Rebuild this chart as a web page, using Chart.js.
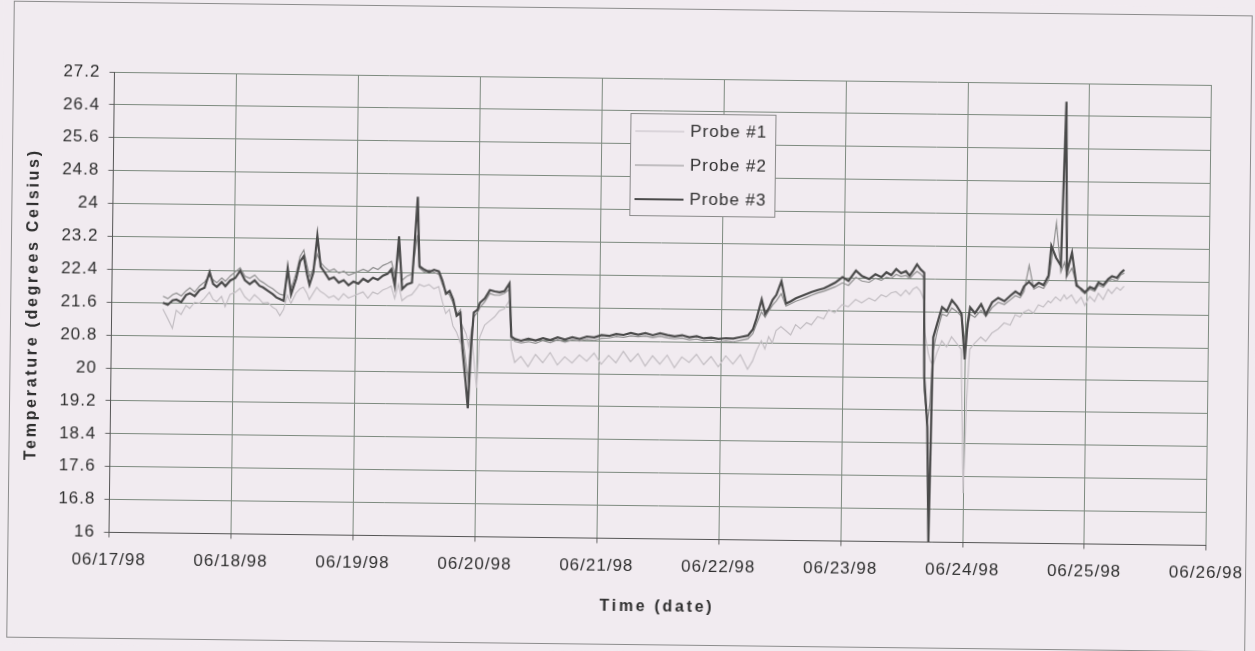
<!DOCTYPE html>
<html>
<head>
<meta charset="utf-8">
<title>Probe temperatures</title>
<script src="https://cdn.jsdelivr.net/npm/chart.js@4.4.1/dist/chart.umd.min.js"></script>
<style>
  html, body { margin: 0; padding: 0; background: #f1ebf0; overflow: hidden; }
  /* the scanned original sits slightly askew */
  #chart { display: block; transform: rotate(0.68deg); }
</style>
</head>
<body>
<canvas id="chart" width="1255" height="651"></canvas>
<script>
// tick labels
const dateLabels = ['06/17/98', '06/18/98', '06/19/98', '06/20/98', '06/21/98',
    '06/22/98', '06/23/98', '06/24/98', '06/25/98', '06/26/98'];
const yTickLabels = ['16', '16.8', '17.6', '18.4', '19.2', '20', '20.8', '21.6',
    '22.4', '23.2', '24', '24.8', '25.6', '26.4', '27.2'];

// time in days after 06/17/98 00:00
const time = [
    0.42, 0.46, 0.50, 0.53, 0.57, 0.61, 0.64, 0.68, 0.72, 0.76,
    0.80, 0.83, 0.86, 0.90, 0.93, 0.97, 1.01, 1.05, 1.09, 1.13,
    1.17, 1.21, 1.24, 1.28, 1.32, 1.35, 1.38, 1.41, 1.44, 1.47,
    1.51, 1.54, 1.57, 1.60, 1.62, 1.65, 1.68, 1.71, 1.74, 1.78,
    1.82, 1.86, 1.90, 1.94, 1.98, 2.02, 2.06, 2.10, 2.14, 2.18,
    2.22, 2.26, 2.29, 2.32, 2.35, 2.38, 2.42, 2.46, 2.50, 2.52,
    2.56, 2.60, 2.64, 2.68, 2.71, 2.74, 2.77, 2.80, 2.83, 2.86,
    2.88, 2.91, 2.93, 2.95, 2.97, 3.00, 3.02, 3.06, 3.10, 3.14,
    3.18, 3.22, 3.26, 3.28, 3.31,
    3.36, 3.42, 3.48, 3.54, 3.60, 3.66, 3.72, 3.78, 3.84, 3.90,
    3.96, 4.02, 4.08, 4.14, 4.20, 4.26, 4.32, 4.38, 4.44, 4.50,
    4.56, 4.62, 4.68, 4.74, 4.80, 4.86, 4.92, 4.98, 5.04, 5.10,
    5.16, 5.22,
    5.26, 5.29, 5.33, 5.36, 5.39, 5.42, 5.45, 5.49, 5.53, 5.57,
    5.61, 5.65, 5.70, 5.74, 5.79, 5.84, 5.88, 5.93, 5.99, 6.04,
    6.10, 6.15, 6.21, 6.26, 6.31, 6.35, 6.39, 6.43, 6.47, 6.51,
    6.54, 6.57, 6.60, 6.63, 6.66, 6.67, 6.70, 6.72, 6.74, 6.77,
    6.81, 6.85, 6.89, 6.93, 6.97, 7.00, 7.02, 7.04, 7.08, 7.13,
    7.17, 7.22, 7.27, 7.32, 7.37, 7.41, 7.45, 7.48, 7.52, 7.56,
    7.60, 7.64, 7.68, 7.70, 7.74, 7.78, 7.81, 7.83, 7.87, 7.91,
    7.95, 7.98, 8.02, 8.06, 8.09, 8.13, 8.17, 8.20, 8.24, 8.27,
    8.30
];

const probe1 = [
    21.45, 21.22, 20.98, 21.42, 21.32, 21.54, 21.47, 21.62, 21.60, 21.72,
    21.87, 21.70, 21.64, 21.77, 21.52, 21.82, 21.87, 21.97, 21.77, 21.67,
    21.82, 21.72, 21.62, 21.64, 21.52, 21.47, 21.32, 21.47, 21.82, 21.62,
    21.87, 21.97, 22.02, 21.87, 21.72, 21.87, 22.02, 21.92, 21.87, 21.77,
    21.82, 21.72, 21.87, 21.77, 21.82, 21.87, 21.92, 21.77, 21.92, 21.87,
    21.97, 22.02, 22.07, 21.77, 22.12, 21.72, 21.82, 21.87, 22.02, 22.12,
    22.07, 22.12, 22.02, 22.07, 21.72, 21.42, 21.52, 21.12, 20.97, 20.72,
    21.12, 20.92, 20.62, 21.02, 20.45, 19.62, 20.85, 21.15, 21.25, 21.35,
    21.50, 21.55, 21.75, 20.60, 20.25,
    20.40, 20.15, 20.45, 20.25, 20.50, 20.20, 20.40, 20.25, 20.45, 20.30,
    20.50, 20.23, 20.45, 20.27, 20.55, 20.30, 20.50, 20.20, 20.45, 20.25,
    20.47, 20.17, 20.43, 20.30, 20.50, 20.25, 20.45, 20.20, 20.47, 20.27,
    20.50, 20.15,
    20.35, 20.60, 20.85, 20.65, 20.95, 20.80, 21.10, 21.20, 21.10, 21.00,
    21.25, 21.15, 21.30, 21.25, 21.45, 21.40, 21.62, 21.55, 21.75, 21.70,
    21.88, 21.80, 21.92, 21.85, 22.00, 21.95, 22.05, 22.08, 21.98, 22.12,
    22.02, 22.15, 22.20, 22.10, 21.90, 21.10, 20.60, 20.40, 20.30, 20.60,
    20.90, 20.75, 21.00, 20.85, 20.70, 17.20, 19.50, 20.70, 20.85, 21.00,
    20.90, 21.10, 21.20, 21.35, 21.30, 21.55, 21.50, 21.62, 21.68, 21.60,
    21.80, 21.75, 21.90, 21.85, 22.00, 21.90, 22.05, 21.95, 22.05, 21.85,
    22.00, 21.80, 22.02, 21.90, 22.10, 21.95, 22.20, 22.10, 22.25, 22.18,
    22.28
];

const probe2 = [
    21.76, 21.70, 21.80, 21.84, 21.77, 21.90, 21.97, 21.87, 22.02, 22.12,
    22.27, 22.17, 22.10, 22.22, 22.14, 22.27, 22.37, 22.47, 22.27, 22.22,
    22.30, 22.17, 22.12, 22.04, 21.97, 21.90, 21.84, 21.82, 22.32, 21.97,
    22.37, 22.77, 22.92, 22.52, 22.27, 22.47, 22.82, 22.62, 22.52, 22.42,
    22.47, 22.37, 22.42, 22.32, 22.37, 22.42, 22.47, 22.42, 22.52, 22.47,
    22.57, 22.62, 22.67, 22.32, 22.92, 22.22, 22.32, 22.37, 23.32, 22.52,
    22.42, 22.47, 22.42, 22.37, 22.12, 21.95, 21.87, 21.67, 21.40, 21.52,
    20.90, 20.22, 19.82, 20.85, 21.35, 21.45, 21.57, 21.72, 21.92, 21.88,
    21.88, 21.93, 22.03, 20.85, 20.76,
    20.73, 20.76, 20.72, 20.79, 20.74, 20.81, 20.76, 20.81, 20.79, 20.83,
    20.81, 20.86, 20.87, 20.91, 20.89, 20.93, 20.91, 20.93, 20.89, 20.93,
    20.89, 20.87, 20.89, 20.85, 20.87, 20.83, 20.85, 20.81, 20.83, 20.81,
    20.85, 20.89,
    21.02, 21.25, 21.55, 21.42, 21.58, 21.72, 21.82, 22.00, 21.70, 21.76,
    21.82, 21.86, 21.92, 21.97, 22.03, 22.07, 22.12, 22.18, 22.28, 22.22,
    22.42, 22.33, 22.30, 22.40, 22.35, 22.43, 22.40, 22.50, 22.45, 22.48,
    22.40, 22.50, 22.58, 22.52, 22.42, 19.70, 18.90, 19.40, 20.65, 21.10,
    21.55, 21.50, 21.70, 21.62, 21.50, 20.90, 21.20, 21.55, 21.48, 21.65,
    21.50, 21.72, 21.85, 21.80, 21.92, 22.02, 21.97, 22.12, 22.76, 22.18,
    22.25, 22.20, 22.40, 22.80, 23.80, 22.60, 22.85, 22.50, 22.70, 22.35,
    22.15, 22.08, 22.20, 22.15, 22.30, 22.25, 22.40, 22.45, 22.40, 22.55,
    22.60
];

const probe3 = [
    21.60, 21.55, 21.66, 21.68, 21.62, 21.80, 21.84, 21.77, 21.92, 21.98,
    22.36, 22.07, 22.00, 22.12, 22.02, 22.16, 22.22, 22.40, 22.17, 22.08,
    22.17, 22.04, 22.00, 21.92, 21.84, 21.76, 21.72, 21.68, 22.48, 21.84,
    22.22, 22.64, 22.77, 22.32, 22.08, 22.37, 23.28, 22.52, 22.40, 22.22,
    22.27, 22.14, 22.20, 22.08, 22.17, 22.12, 22.24, 22.17, 22.27, 22.22,
    22.32, 22.37, 22.48, 22.08, 23.28, 22.00, 22.12, 22.16, 24.25, 22.56,
    22.48, 22.42, 22.48, 22.44, 22.22, 21.90, 21.97, 21.76, 21.37, 21.44,
    20.57, 19.75, 19.12, 20.55, 21.45, 21.52, 21.69, 21.80, 22.00, 21.97,
    21.95, 21.98, 22.17, 20.88, 20.82,
    20.78, 20.83, 20.79, 20.85, 20.80, 20.87, 20.82, 20.88, 20.84, 20.90,
    20.88, 20.94, 20.92, 20.97, 20.95, 21.00, 20.96, 21.00, 20.95, 21.00,
    20.96, 20.93, 20.96, 20.91, 20.94, 20.89, 20.91, 20.88, 20.90, 20.89,
    20.93, 20.97,
    21.12, 21.39, 21.85, 21.50, 21.64, 21.85, 21.97, 22.30, 21.76, 21.82,
    21.89, 21.94, 22.00, 22.05, 22.10, 22.14, 22.20, 22.28, 22.42, 22.33,
    22.58, 22.45, 22.38, 22.50, 22.43, 22.55, 22.48, 22.63, 22.53, 22.58,
    22.47, 22.60, 22.75, 22.63, 22.55, 20.02, 18.80, 16.00, 20.98, 21.30,
    21.72, 21.62, 21.89, 21.75, 21.56, 20.45, 21.30, 21.72, 21.58, 21.80,
    21.55, 21.85, 21.96, 21.88, 22.02, 22.12, 22.04, 22.25, 22.36, 22.24,
    22.34, 22.28, 22.52, 23.24, 22.95, 22.76, 26.75, 22.60, 23.08, 22.28,
    22.20, 22.12, 22.25, 22.20, 22.36, 22.30, 22.45, 22.52, 22.48, 22.60,
    22.68
];

const bg = '#f1ebf0';
const textColor = '#2f2f2f';
const gridColor = '#7d8a7f';
const fontFamily = '"Liberation Sans", Arial, sans-serif';

const pts = arr => time.map((t, i) => ({ x: t, y: arr[i] }));

// paper, frame and tick spacing
const paper = {
    id: 'paper',
    beforeDraw(chart) {
        const ctx = chart.ctx;
        ctx.save();
        ctx.fillStyle = bg;
        ctx.fillRect(0, 0, chart.width, chart.height);
        ctx.strokeStyle = '#8c8c8c';
        ctx.lineWidth = 1;
        ctx.strokeRect(10.5, 8.5, 1238, 636);
        ctx.restore();
        ctx.letterSpacing = '1px';
    }
};

// legend box inside the plot
const boxLegend = {
    id: 'boxLegend',
    afterDraw(chart) {
        const ctx = chart.ctx;
        const x = 628, y = 113, w = 145, h = 102;
        ctx.save();
        ctx.fillStyle = bg;
        ctx.fillRect(x, y, w, h);
        ctx.strokeStyle = '#8a8a8a';
        ctx.lineWidth = 1;
        ctx.strokeRect(x + 0.5, y + 0.5, w, h);
        ctx.font = '17px ' + fontFamily;
        ctx.textBaseline = 'middle';
        ctx.letterSpacing = '1px';
        chart.data.datasets.forEach((ds, i) => {
            const ly = y + 18 + i * 34;
            ctx.strokeStyle = ds.borderColor;
            ctx.lineWidth = ds.borderWidth;
            ctx.beginPath();
            ctx.moveTo(x + 5, ly);
            ctx.lineTo(x + 54, ly);
            ctx.stroke();
            ctx.fillStyle = textColor;
            ctx.fillText(ds.label, x + 60, ly);
        });
        ctx.restore();
    }
};

// spaced-out bold axis titles
const axisTitles = {
    id: 'axisTitles',
    afterDraw(chart) {
        const { ctx, chartArea } = chart;
        ctx.save();
        ctx.fillStyle = textColor;
        ctx.font = 'bold 16px ' + fontFamily;
        ctx.letterSpacing = '2.7px';
        ctx.textAlign = 'center';
        ctx.textBaseline = 'middle';
        ctx.fillText('Time (date)', (chartArea.left + chartArea.right) / 2, 607);
        ctx.translate(33, (chartArea.top + chartArea.bottom) / 2 + 3);
        ctx.rotate(-Math.PI / 2);
        ctx.fillText('Temperature (degrees Celsius)', 0, 0);
        ctx.restore();
        ctx.letterSpacing = '0px';
    }
};

new Chart(document.getElementById('chart'), {
    type: 'line',
    data: {
        datasets: [{
            label: 'Probe #1',
            data: pts(probe1),
            borderColor: '#c3bec3',
            borderWidth: 1.2,
            order: 3
        },
        {
            label: 'Probe #2',
            data: pts(probe2),
            borderColor: '#8f8f8f',
            borderWidth: 1.2,
            order: 2
        },
        {
            label: 'Probe #3',
            data: pts(probe3),
            borderColor: '#4a4a4a',
            borderWidth: 2.2,
            order: 1
        }]
    },
    options: {
        responsive: false,
        animation: false,
        layout: {
            padding: { top: 78, right: 46, left: 0, bottom: 0 }
        },
        elements: {
            point: { radius: 0 },
            line: { tension: 0 }
        },
        plugins: {
            legend: { display: false },
            tooltip: { enabled: false }
        },
        scales: {
            x: {
                type: 'linear',
                min: 0,
                max: 9,
                ticks: {
                    stepSize: 1,
                    autoSkip: false,
                    maxRotation: 0,
                    padding: 13,
                    color: textColor,
                    font: { family: fontFamily, size: 17 },
                    callback: (v) => dateLabels[v]
                },
                grid: { color: gridColor, tickLength: 5, tickColor: '#666' },
                border: { color: '#555' },
                afterFit: (s) => { s.height = 112.5; }
            },
            y: {
                min: 16,
                max: 27.2,
                ticks: {
                    stepSize: 0.8,
                    padding: 9,
                    color: textColor,
                    font: { family: fontFamily, size: 17 },
                    callback: (v, i) => yTickLabels[i]
                },
                grid: { color: gridColor, tickLength: 5, tickColor: '#666' },
                border: { color: '#555' },
                afterFit: (s) => { s.width = 111.5; }
            }
        }
    },
    plugins: [paper, boxLegend, axisTitles]
});
</script>
</body>
</html>
